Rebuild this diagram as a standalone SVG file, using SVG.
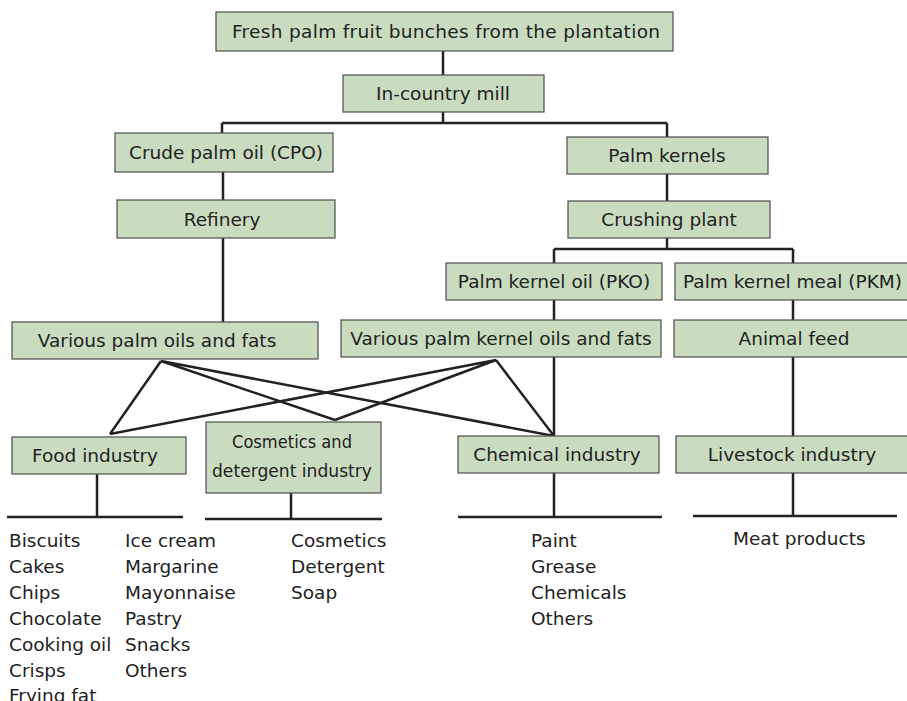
<svg xmlns="http://www.w3.org/2000/svg" width="907" height="701" viewBox="0 0 907 701">
<style>
.box{fill:#c9dcc0;stroke:#4d4d4d;stroke-width:1.2}
.t{font-family:"DejaVu Sans",sans-serif;font-size:18.5px;fill:#222;text-anchor:middle}
.l{font-family:"DejaVu Sans",sans-serif;font-size:18.5px;fill:#222}
.c{fill:none;stroke:#222;stroke-width:2.5}
</style>
<rect width="907" height="701" fill="#fff"/>
<g id="connectors" class="c">
<path d="M443 51V75M443 112V123M222 123H667M222 123V133M667 123V137"/>
<path d="M223 172V200M223 238V322"/>
<path d="M667 174V201M667 238V249M554 249H793M554 249V263M793 249V263"/>
<path d="M554 300V320M554 357V436M793 300V320M793 357V436"/>
<path d="M161 361L110 434M161 361L335 420M161 361L554 436M496 360L110 434M496 360L335 420M496 360L554 436"/>
<path d="M97 474V517M7 517H183M291 493V519M205 519H382M554 473V517M458 517H662M793 473V516M693 516H897"/>
</g>
<g id="n_fresh"><rect class="box" x="216" y="12" width="457" height="39"/><text class="t" x="446" y="38" textLength="428" lengthAdjust="spacing">Fresh palm fruit bunches from the plantation</text></g>
<g id="n_mill"><rect class="box" x="343" y="75" width="201" height="37"/><text class="t" x="443" y="100">In-country mill</text></g>
<g id="n_cpo"><rect class="box" x="115" y="133" width="218" height="39"/><text class="t" x="226" y="159">Crude palm oil (CPO)</text></g>
<g id="n_kernels"><rect class="box" x="567" y="137" width="201" height="37"/><text class="t" x="667" y="162">Palm kernels</text></g>
<g id="n_refinery"><rect class="box" x="117" y="200" width="218" height="38"/><text class="t" x="222" y="226">Refinery</text></g>
<g id="n_crushing"><rect class="box" x="568" y="201" width="202" height="37"/><text class="t" x="669" y="226">Crushing plant</text></g>
<g id="n_pko"><rect class="box" x="446" y="263" width="216" height="37"/><text class="t" x="554" y="288">Palm kernel oil (PKO)</text></g>
<g id="n_pkm"><rect class="box" x="675" y="263" width="240" height="37"/><text class="l" x="683" y="288">Palm kernel meal (PKM)</text></g>
<g id="n_vpof"><rect class="box" x="12" y="322" width="306" height="37"/><text class="t" x="157" y="347">Various palm oils and fats</text></g>
<g id="n_vpkof"><rect class="box" x="341" y="320" width="320" height="37"/><text class="t" x="501" y="345">Various palm kernel oils and fats</text></g>
<g id="n_feed"><rect class="box" x="674" y="320" width="240" height="37"/><text class="t" x="794" y="345">Animal feed</text></g>
<g id="n_food"><rect class="box" x="12" y="437" width="174" height="37"/><text class="t" x="95" y="462">Food industry</text></g>
<g id="n_cosm"><rect class="box" x="206" y="422" width="175" height="71"/><text class="t" x="292" y="448" textLength="120" lengthAdjust="spacingAndGlyphs">Cosmetics and</text><text class="t" x="292" y="477" textLength="160" lengthAdjust="spacingAndGlyphs">detergent industry</text></g>
<g id="n_chem"><rect class="box" x="458" y="436" width="201" height="37"/><text class="t" x="557" y="461">Chemical industry</text></g>
<g id="n_live"><rect class="box" x="676" y="436" width="240" height="37"/><text class="t" x="792" y="461">Livestock industry</text></g>
<g id="lists" class="l">
<text x="9" y="547">Biscuits</text><text x="9" y="573">Cakes</text><text x="9" y="599">Chips</text><text x="9" y="625">Chocolate</text><text x="9" y="651">Cooking oil</text><text x="9" y="677">Crisps</text><text x="9" y="702">Frying fat</text>
<text x="125" y="547">Ice cream</text><text x="125" y="573">Margarine</text><text x="125" y="599">Mayonnaise</text><text x="125" y="625">Pastry</text><text x="125" y="651">Snacks</text><text x="125" y="677">Others</text>
<text x="291" y="547">Cosmetics</text><text x="291" y="573">Detergent</text><text x="291" y="599">Soap</text>
<text x="531" y="547">Paint</text><text x="531" y="573">Grease</text><text x="531" y="599">Chemicals</text><text x="531" y="625">Others</text>
<text x="733" y="545">Meat products</text>
</g>
</svg>
